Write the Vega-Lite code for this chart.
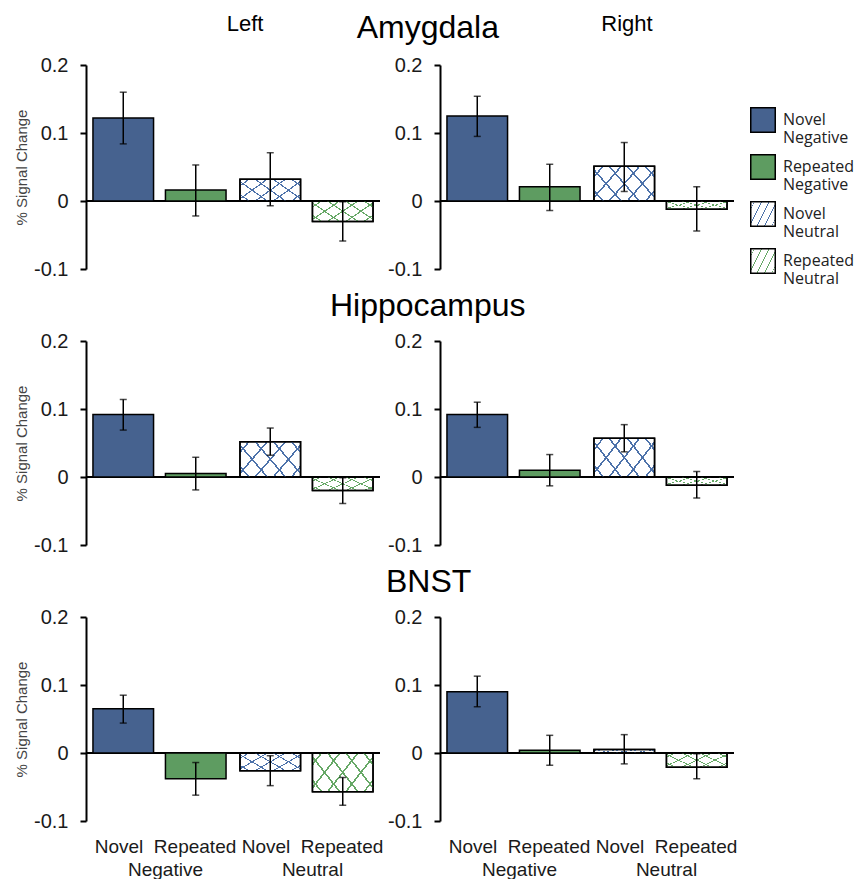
{
"$schema": "https://vega.github.io/schema/vega-lite/v6.json",
"background": "white",
"padding": {"left": 14, "top": 12, "right": 0, "bottom": 0},
"params": [
{"name":"hA_b","value":{"gradient":"linear","x1":0,"y1":0,"x2":1.2,"y2":0.6,"stops":[{"offset":0,"color":"rgba(77,114,170,0)"},{"offset":0.089,"color":"rgba(77,114,170,0)"},{"offset":0.089,"color":"#4d72aa"},{"offset":0.111,"color":"#4d72aa"},{"offset":0.111,"color":"rgba(77,114,170,0)"},{"offset":0.289,"color":"rgba(77,114,170,0)"},{"offset":0.289,"color":"#4d72aa"},{"offset":0.311,"color":"#4d72aa"},{"offset":0.311,"color":"rgba(77,114,170,0)"},{"offset":0.489,"color":"rgba(77,114,170,0)"},{"offset":0.489,"color":"#4d72aa"},{"offset":0.511,"color":"#4d72aa"},{"offset":0.511,"color":"rgba(77,114,170,0)"},{"offset":0.689,"color":"rgba(77,114,170,0)"},{"offset":0.689,"color":"#4d72aa"},{"offset":0.711,"color":"#4d72aa"},{"offset":0.711,"color":"rgba(77,114,170,0)"},{"offset":0.889,"color":"rgba(77,114,170,0)"},{"offset":0.889,"color":"#4d72aa"},{"offset":0.911,"color":"#4d72aa"},{"offset":0.911,"color":"rgba(77,114,170,0)"},{"offset":1,"color":"rgba(77,114,170,0)"}]}},
{"name":"hA_g","value":{"gradient":"linear","x1":0,"y1":0,"x2":1.2,"y2":0.6,"stops":[{"offset":0,"color":"rgba(102,168,102,0)"},{"offset":0.089,"color":"rgba(102,168,102,0)"},{"offset":0.089,"color":"#66a866"},{"offset":0.111,"color":"#66a866"},{"offset":0.111,"color":"rgba(102,168,102,0)"},{"offset":0.289,"color":"rgba(102,168,102,0)"},{"offset":0.289,"color":"#66a866"},{"offset":0.311,"color":"#66a866"},{"offset":0.311,"color":"rgba(102,168,102,0)"},{"offset":0.489,"color":"rgba(102,168,102,0)"},{"offset":0.489,"color":"#66a866"},{"offset":0.511,"color":"#66a866"},{"offset":0.511,"color":"rgba(102,168,102,0)"},{"offset":0.689,"color":"rgba(102,168,102,0)"},{"offset":0.689,"color":"#66a866"},{"offset":0.711,"color":"#66a866"},{"offset":0.711,"color":"rgba(102,168,102,0)"},{"offset":0.889,"color":"rgba(102,168,102,0)"},{"offset":0.889,"color":"#66a866"},{"offset":0.911,"color":"#66a866"},{"offset":0.911,"color":"rgba(102,168,102,0)"},{"offset":1,"color":"rgba(102,168,102,0)"}]}},
{"name":"hB_b","value":{"gradient":"linear","x1":1,"y1":0,"x2":-0.2,"y2":0.6,"stops":[{"offset":0,"color":"rgba(77,114,170,0)"},{"offset":0.089,"color":"rgba(77,114,170,0)"},{"offset":0.089,"color":"#4d72aa"},{"offset":0.111,"color":"#4d72aa"},{"offset":0.111,"color":"rgba(77,114,170,0)"},{"offset":0.289,"color":"rgba(77,114,170,0)"},{"offset":0.289,"color":"#4d72aa"},{"offset":0.311,"color":"#4d72aa"},{"offset":0.311,"color":"rgba(77,114,170,0)"},{"offset":0.489,"color":"rgba(77,114,170,0)"},{"offset":0.489,"color":"#4d72aa"},{"offset":0.511,"color":"#4d72aa"},{"offset":0.511,"color":"rgba(77,114,170,0)"},{"offset":0.689,"color":"rgba(77,114,170,0)"},{"offset":0.689,"color":"#4d72aa"},{"offset":0.711,"color":"#4d72aa"},{"offset":0.711,"color":"rgba(77,114,170,0)"},{"offset":0.889,"color":"rgba(77,114,170,0)"},{"offset":0.889,"color":"#4d72aa"},{"offset":0.911,"color":"#4d72aa"},{"offset":0.911,"color":"rgba(77,114,170,0)"},{"offset":1,"color":"rgba(77,114,170,0)"}]}},
{"name":"hB_g","value":{"gradient":"linear","x1":1,"y1":0,"x2":-0.2,"y2":0.6,"stops":[{"offset":0,"color":"rgba(102,168,102,0)"},{"offset":0.089,"color":"rgba(102,168,102,0)"},{"offset":0.089,"color":"#66a866"},{"offset":0.111,"color":"#66a866"},{"offset":0.111,"color":"rgba(102,168,102,0)"},{"offset":0.289,"color":"rgba(102,168,102,0)"},{"offset":0.289,"color":"#66a866"},{"offset":0.311,"color":"#66a866"},{"offset":0.311,"color":"rgba(102,168,102,0)"},{"offset":0.489,"color":"rgba(102,168,102,0)"},{"offset":0.489,"color":"#66a866"},{"offset":0.511,"color":"#66a866"},{"offset":0.511,"color":"rgba(102,168,102,0)"},{"offset":0.689,"color":"rgba(102,168,102,0)"},{"offset":0.689,"color":"#66a866"},{"offset":0.711,"color":"#66a866"},{"offset":0.711,"color":"rgba(102,168,102,0)"},{"offset":0.889,"color":"rgba(102,168,102,0)"},{"offset":0.889,"color":"#66a866"},{"offset":0.911,"color":"#66a866"},{"offset":0.911,"color":"rgba(102,168,102,0)"},{"offset":1,"color":"rgba(102,168,102,0)"}]}}
],
"data": {"values": [
{"r":"Amygdala","s":"Left","group":"Negative","novelty":"Novel","cond":"Novel Negative","value":0.122,"lo":0.084,"hi":0.160},
{"r":"Amygdala","s":"Left","group":"Negative","novelty":"Repeated","cond":"Repeated Negative","value":0.016,"lo":-0.022,"hi":0.053},
{"r":"Amygdala","s":"Left","group":"Neutral","novelty":"Novel","cond":"Novel Neutral","value":0.032,"lo":-0.007,"hi":0.071},
{"r":"Amygdala","s":"Left","group":"Neutral","novelty":"Repeated","cond":"Repeated Neutral","value":-0.030,"lo":-0.059,"hi":-0.001},
{"r":"Amygdala","s":"Right","group":"Negative","novelty":"Novel","cond":"Novel Negative","value":0.125,"lo":0.095,"hi":0.154},
{"r":"Amygdala","s":"Right","group":"Negative","novelty":"Repeated","cond":"Repeated Negative","value":0.021,"lo":-0.014,"hi":0.054},
{"r":"Amygdala","s":"Right","group":"Neutral","novelty":"Novel","cond":"Novel Neutral","value":0.051,"lo":0.014,"hi":0.086},
{"r":"Amygdala","s":"Right","group":"Neutral","novelty":"Repeated","cond":"Repeated Neutral","value":-0.012,"lo":-0.044,"hi":0.021},
{"r":"Hippocampus","s":"Left","group":"Negative","novelty":"Novel","cond":"Novel Negative","value":0.092,"lo":0.069,"hi":0.114},
{"r":"Hippocampus","s":"Left","group":"Negative","novelty":"Repeated","cond":"Repeated Negative","value":0.005,"lo":-0.019,"hi":0.029},
{"r":"Hippocampus","s":"Left","group":"Neutral","novelty":"Novel","cond":"Novel Neutral","value":0.052,"lo":0.032,"hi":0.072},
{"r":"Hippocampus","s":"Left","group":"Neutral","novelty":"Repeated","cond":"Repeated Neutral","value":-0.020,"lo":-0.039,"hi":-0.001},
{"r":"Hippocampus","s":"Right","group":"Negative","novelty":"Novel","cond":"Novel Negative","value":0.092,"lo":0.073,"hi":0.110},
{"r":"Hippocampus","s":"Right","group":"Negative","novelty":"Repeated","cond":"Repeated Negative","value":0.010,"lo":-0.013,"hi":0.033},
{"r":"Hippocampus","s":"Right","group":"Neutral","novelty":"Novel","cond":"Novel Neutral","value":0.057,"lo":0.037,"hi":0.077},
{"r":"Hippocampus","s":"Right","group":"Neutral","novelty":"Repeated","cond":"Repeated Neutral","value":-0.012,"lo":-0.031,"hi":0.008},
{"r":"BNST","s":"Left","group":"Negative","novelty":"Novel","cond":"Novel Negative","value":0.065,"lo":0.044,"hi":0.085},
{"r":"BNST","s":"Left","group":"Negative","novelty":"Repeated","cond":"Repeated Negative","value":-0.038,"lo":-0.062,"hi":-0.014},
{"r":"BNST","s":"Left","group":"Neutral","novelty":"Novel","cond":"Novel Neutral","value":-0.026,"lo":-0.048,"hi":-0.004},
{"r":"BNST","s":"Left","group":"Neutral","novelty":"Repeated","cond":"Repeated Neutral","value":-0.057,"lo":-0.077,"hi":-0.036},
{"r":"BNST","s":"Right","group":"Negative","novelty":"Novel","cond":"Novel Negative","value":0.090,"lo":0.068,"hi":0.113},
{"r":"BNST","s":"Right","group":"Negative","novelty":"Repeated","cond":"Repeated Negative","value":0.004,"lo":-0.018,"hi":0.026},
{"r":"BNST","s":"Right","group":"Neutral","novelty":"Novel","cond":"Novel Neutral","value":0.005,"lo":-0.016,"hi":0.027},
{"r":"BNST","s":"Right","group":"Neutral","novelty":"Repeated","cond":"Repeated Neutral","value":-0.021,"lo":-0.038,"hi":-0.001}
]},
"config": {
  "font": "Liberation Sans",
  "view": {"stroke": null},
  "axisY": {"domainColor":"black","domainWidth":2,"tickColor":"black","tickWidth":2,"tickSize":6,"labelFontSize":20,"labelPadding":12,"labelColor":"#1a1a1a","grid":false,"titleFontSize":15,"titleFontWeight":"normal","titleColor":"#444444","titlePadding":4},
  "axisX": {"labelFontSize":19,"labelColor":"#1a1a1a"},
  "title": {"fontWeight":"normal","color":"black","font":"Liberation Sans"}
},
"spacing": 11,
"vconcat": [
{
  "title": {"text":"Amygdala","fontSize":32,"frame":"bounds","anchor":"middle","offset":-32,"dx":53},
  "bounds": "flush", "spacing": 60,
  "hconcat": [
  {
    "width": 294, "height": 204,
    "title": {"text":"Left","fontSize":22,"frame":"group","anchor":"middle","offset":19,"dx":12},
    "transform": [{"filter":"datum.r == 'Amygdala' && datum.s == 'Left'"}],
    "encoding": {"y": {"field":"value","type":"quantitative","scale":{"domain":[-0.1,0.2],"nice":false},"axis":{"values":[-0.1,0,0.1,0.2],"labelExpr":"'' + datum.value","title":"% Signal Change"}}},
    "layer": [
      {"mark":{"type":"rule","color":"black","strokeWidth":2},"encoding":{"y":{"datum":0,"type":"quantitative","scale":{"domain":[-0.1,0.2],"nice":false},"axis":{"values":[-0.1,0,0.1,0.2],"labelExpr":"'' + datum.value","title":"% Signal Change"}}}},
      {"mark":{"type":"bar","stroke":"black","strokeWidth":1.5},"encoding":{
        "x":{"field":"group","type":"nominal","sort":["Negative","Neutral"],"scale":{"paddingInner":0,"paddingOuter":0},"axis":null},
        "xOffset":{"field":"novelty","type":"nominal","sort":["Novel","Repeated"],"scale":{"paddingInner":0.164,"paddingOuter":0.096}},
        "color":{"field":"cond","type":"nominal","scale":{"domain":["Novel Negative","Repeated Negative","Novel Neutral","Repeated Neutral"],"range":["#46628f","#5e9c61",{"expr":"hA_b"},{"expr":"hA_g"}]},"legend":{"title":null,"orient":"none","legendX":664,"legendY":42,"symbolType":"square","symbolSize":600,"symbolStrokeColor":"black","symbolStrokeWidth":1.5,"labelFont":"Open Sans","labelFontSize":16,"labelColor":"#222222","labelExpr":"split(datum.label, ' ')","labelOffset":7,"rowPadding":5,"labelLimit":0,"padding":0}}}},
      {"transform":[{"filter":"datum.group == 'Neutral'"}],"mark":{"type":"bar","fill":{"expr":"datum.cond == 'Novel Neutral' ? hB_b : hB_g"},"stroke":"black","strokeWidth":1.5},"encoding":{
        "x":{"field":"group","type":"nominal","sort":["Negative","Neutral"],"scale":{"paddingInner":0,"paddingOuter":0},"axis":null},
        "xOffset":{"field":"novelty","type":"nominal","sort":["Novel","Repeated"],"scale":{"paddingInner":0.164,"paddingOuter":0.096}}}},
      {"mark":{"type":"rule","color":"black","strokeWidth":1.5},"encoding":{
        "x":{"field":"group","type":"nominal","sort":["Negative","Neutral"],"scale":{"paddingInner":0,"paddingOuter":0},"axis":null},
        "xOffset":{"field":"novelty","type":"nominal","sort":["Novel","Repeated"],"scale":{"paddingInner":0.164,"paddingOuter":0.096}},
        "y":{"field":"lo","type":"quantitative","scale":{"domain":[-0.1,0.2],"nice":false},"axis":{"values":[-0.1,0,0.1,0.2],"labelExpr":"'' + datum.value","title":"% Signal Change"}},"y2":{"field":"hi"}}},
      {"mark":{"type":"tick","color":"black","thickness":1.5,"size":7},"encoding":{
        "x":{"field":"group","type":"nominal","sort":["Negative","Neutral"],"scale":{"paddingInner":0,"paddingOuter":0},"axis":null},
        "xOffset":{"field":"novelty","type":"nominal","sort":["Novel","Repeated"],"scale":{"paddingInner":0.164,"paddingOuter":0.096}},
        "y":{"field":"lo","type":"quantitative","scale":{"domain":[-0.1,0.2],"nice":false},"axis":{"values":[-0.1,0,0.1,0.2],"labelExpr":"'' + datum.value","title":"% Signal Change"}}}},
      {"mark":{"type":"tick","color":"black","thickness":1.5,"size":7},"encoding":{
        "x":{"field":"group","type":"nominal","sort":["Negative","Neutral"],"scale":{"paddingInner":0,"paddingOuter":0},"axis":null},
        "xOffset":{"field":"novelty","type":"nominal","sort":["Novel","Repeated"],"scale":{"paddingInner":0.164,"paddingOuter":0.096}},
        "y":{"field":"hi","type":"quantitative","scale":{"domain":[-0.1,0.2],"nice":false},"axis":{"values":[-0.1,0,0.1,0.2],"labelExpr":"'' + datum.value","title":"% Signal Change"}}}}
    ]
  },
  {
    "width": 294, "height": 204,
    "title": {"text":"Right","fontSize":22,"frame":"group","anchor":"middle","offset":19,"dx":40},
    "transform": [{"filter":"datum.r == 'Amygdala' && datum.s == 'Right'"}],
    "encoding": {"y": {"field":"value","type":"quantitative","scale":{"domain":[-0.1,0.2],"nice":false},"axis":{"values":[-0.1,0,0.1,0.2],"labelExpr":"'' + datum.value","title":null}}},
    "layer": [
      {"mark":{"type":"rule","color":"black","strokeWidth":2},"encoding":{"y":{"datum":0,"type":"quantitative","scale":{"domain":[-0.1,0.2],"nice":false},"axis":{"values":[-0.1,0,0.1,0.2],"labelExpr":"'' + datum.value","title":null}}}},
      {"mark":{"type":"bar","stroke":"black","strokeWidth":1.5},"encoding":{
        "x":{"field":"group","type":"nominal","sort":["Negative","Neutral"],"scale":{"paddingInner":0,"paddingOuter":0},"axis":null},
        "xOffset":{"field":"novelty","type":"nominal","sort":["Novel","Repeated"],"scale":{"paddingInner":0.164,"paddingOuter":0.096}},
        "color":{"field":"cond","type":"nominal","scale":{"domain":["Novel Negative","Repeated Negative","Novel Neutral","Repeated Neutral"],"range":["#46628f","#5e9c61",{"expr":"hA_b"},{"expr":"hA_g"}]}}}},
      {"transform":[{"filter":"datum.group == 'Neutral'"}],"mark":{"type":"bar","fill":{"expr":"datum.cond == 'Novel Neutral' ? hB_b : hB_g"},"stroke":"black","strokeWidth":1.5},"encoding":{
        "x":{"field":"group","type":"nominal","sort":["Negative","Neutral"],"scale":{"paddingInner":0,"paddingOuter":0},"axis":null},
        "xOffset":{"field":"novelty","type":"nominal","sort":["Novel","Repeated"],"scale":{"paddingInner":0.164,"paddingOuter":0.096}}}},
      {"mark":{"type":"rule","color":"black","strokeWidth":1.5},"encoding":{
        "x":{"field":"group","type":"nominal","sort":["Negative","Neutral"],"scale":{"paddingInner":0,"paddingOuter":0},"axis":null},
        "xOffset":{"field":"novelty","type":"nominal","sort":["Novel","Repeated"],"scale":{"paddingInner":0.164,"paddingOuter":0.096}},
        "y":{"field":"lo","type":"quantitative","scale":{"domain":[-0.1,0.2],"nice":false},"axis":{"values":[-0.1,0,0.1,0.2],"labelExpr":"'' + datum.value","title":null}},"y2":{"field":"hi"}}},
      {"mark":{"type":"tick","color":"black","thickness":1.5,"size":7},"encoding":{
        "x":{"field":"group","type":"nominal","sort":["Negative","Neutral"],"scale":{"paddingInner":0,"paddingOuter":0},"axis":null},
        "xOffset":{"field":"novelty","type":"nominal","sort":["Novel","Repeated"],"scale":{"paddingInner":0.164,"paddingOuter":0.096}},
        "y":{"field":"lo","type":"quantitative","scale":{"domain":[-0.1,0.2],"nice":false},"axis":{"values":[-0.1,0,0.1,0.2],"labelExpr":"'' + datum.value","title":null}}}},
      {"mark":{"type":"tick","color":"black","thickness":1.5,"size":7},"encoding":{
        "x":{"field":"group","type":"nominal","sort":["Negative","Neutral"],"scale":{"paddingInner":0,"paddingOuter":0},"axis":null},
        "xOffset":{"field":"novelty","type":"nominal","sort":["Novel","Repeated"],"scale":{"paddingInner":0.164,"paddingOuter":0.096}},
        "y":{"field":"hi","type":"quantitative","scale":{"domain":[-0.1,0.2],"nice":false},"axis":{"values":[-0.1,0,0.1,0.2],"labelExpr":"'' + datum.value","title":null}}}}
    ]
  }
  ]
},
{
  "title": {"text":"Hippocampus","fontSize":32,"frame":"bounds","anchor":"middle","offset":8,"dx":53},
  "bounds": "flush", "spacing": 60,
  "hconcat": [
  {
    "width": 294, "height": 204,
    "transform": [{"filter":"datum.r == 'Hippocampus' && datum.s == 'Left'"}],
    "encoding": {"y": {"field":"value","type":"quantitative","scale":{"domain":[-0.1,0.2],"nice":false},"axis":{"values":[-0.1,0,0.1,0.2],"labelExpr":"'' + datum.value","title":"% Signal Change"}}},
    "layer": [
      {"mark":{"type":"rule","color":"black","strokeWidth":2},"encoding":{"y":{"datum":0,"type":"quantitative","scale":{"domain":[-0.1,0.2],"nice":false},"axis":{"values":[-0.1,0,0.1,0.2],"labelExpr":"'' + datum.value","title":"% Signal Change"}}}},
      {"mark":{"type":"bar","stroke":"black","strokeWidth":1.5},"encoding":{
        "x":{"field":"group","type":"nominal","sort":["Negative","Neutral"],"scale":{"paddingInner":0,"paddingOuter":0},"axis":null},
        "xOffset":{"field":"novelty","type":"nominal","sort":["Novel","Repeated"],"scale":{"paddingInner":0.164,"paddingOuter":0.096}},
        "color":{"field":"cond","type":"nominal","scale":{"domain":["Novel Negative","Repeated Negative","Novel Neutral","Repeated Neutral"],"range":["#46628f","#5e9c61",{"expr":"hA_b"},{"expr":"hA_g"}]}}}},
      {"transform":[{"filter":"datum.group == 'Neutral'"}],"mark":{"type":"bar","fill":{"expr":"datum.cond == 'Novel Neutral' ? hB_b : hB_g"},"stroke":"black","strokeWidth":1.5},"encoding":{
        "x":{"field":"group","type":"nominal","sort":["Negative","Neutral"],"scale":{"paddingInner":0,"paddingOuter":0},"axis":null},
        "xOffset":{"field":"novelty","type":"nominal","sort":["Novel","Repeated"],"scale":{"paddingInner":0.164,"paddingOuter":0.096}}}},
      {"mark":{"type":"rule","color":"black","strokeWidth":1.5},"encoding":{
        "x":{"field":"group","type":"nominal","sort":["Negative","Neutral"],"scale":{"paddingInner":0,"paddingOuter":0},"axis":null},
        "xOffset":{"field":"novelty","type":"nominal","sort":["Novel","Repeated"],"scale":{"paddingInner":0.164,"paddingOuter":0.096}},
        "y":{"field":"lo","type":"quantitative","scale":{"domain":[-0.1,0.2],"nice":false},"axis":{"values":[-0.1,0,0.1,0.2],"labelExpr":"'' + datum.value","title":"% Signal Change"}},"y2":{"field":"hi"}}},
      {"mark":{"type":"tick","color":"black","thickness":1.5,"size":7},"encoding":{
        "x":{"field":"group","type":"nominal","sort":["Negative","Neutral"],"scale":{"paddingInner":0,"paddingOuter":0},"axis":null},
        "xOffset":{"field":"novelty","type":"nominal","sort":["Novel","Repeated"],"scale":{"paddingInner":0.164,"paddingOuter":0.096}},
        "y":{"field":"lo","type":"quantitative","scale":{"domain":[-0.1,0.2],"nice":false},"axis":{"values":[-0.1,0,0.1,0.2],"labelExpr":"'' + datum.value","title":"% Signal Change"}}}},
      {"mark":{"type":"tick","color":"black","thickness":1.5,"size":7},"encoding":{
        "x":{"field":"group","type":"nominal","sort":["Negative","Neutral"],"scale":{"paddingInner":0,"paddingOuter":0},"axis":null},
        "xOffset":{"field":"novelty","type":"nominal","sort":["Novel","Repeated"],"scale":{"paddingInner":0.164,"paddingOuter":0.096}},
        "y":{"field":"hi","type":"quantitative","scale":{"domain":[-0.1,0.2],"nice":false},"axis":{"values":[-0.1,0,0.1,0.2],"labelExpr":"'' + datum.value","title":"% Signal Change"}}}}
    ]
  },
  {
    "width": 294, "height": 204,
    "transform": [{"filter":"datum.r == 'Hippocampus' && datum.s == 'Right'"}],
    "encoding": {"y": {"field":"value","type":"quantitative","scale":{"domain":[-0.1,0.2],"nice":false},"axis":{"values":[-0.1,0,0.1,0.2],"labelExpr":"'' + datum.value","title":null}}},
    "layer": [
      {"mark":{"type":"rule","color":"black","strokeWidth":2},"encoding":{"y":{"datum":0,"type":"quantitative","scale":{"domain":[-0.1,0.2],"nice":false},"axis":{"values":[-0.1,0,0.1,0.2],"labelExpr":"'' + datum.value","title":null}}}},
      {"mark":{"type":"bar","stroke":"black","strokeWidth":1.5},"encoding":{
        "x":{"field":"group","type":"nominal","sort":["Negative","Neutral"],"scale":{"paddingInner":0,"paddingOuter":0},"axis":null},
        "xOffset":{"field":"novelty","type":"nominal","sort":["Novel","Repeated"],"scale":{"paddingInner":0.164,"paddingOuter":0.096}},
        "color":{"field":"cond","type":"nominal","scale":{"domain":["Novel Negative","Repeated Negative","Novel Neutral","Repeated Neutral"],"range":["#46628f","#5e9c61",{"expr":"hA_b"},{"expr":"hA_g"}]}}}},
      {"transform":[{"filter":"datum.group == 'Neutral'"}],"mark":{"type":"bar","fill":{"expr":"datum.cond == 'Novel Neutral' ? hB_b : hB_g"},"stroke":"black","strokeWidth":1.5},"encoding":{
        "x":{"field":"group","type":"nominal","sort":["Negative","Neutral"],"scale":{"paddingInner":0,"paddingOuter":0},"axis":null},
        "xOffset":{"field":"novelty","type":"nominal","sort":["Novel","Repeated"],"scale":{"paddingInner":0.164,"paddingOuter":0.096}}}},
      {"mark":{"type":"rule","color":"black","strokeWidth":1.5},"encoding":{
        "x":{"field":"group","type":"nominal","sort":["Negative","Neutral"],"scale":{"paddingInner":0,"paddingOuter":0},"axis":null},
        "xOffset":{"field":"novelty","type":"nominal","sort":["Novel","Repeated"],"scale":{"paddingInner":0.164,"paddingOuter":0.096}},
        "y":{"field":"lo","type":"quantitative","scale":{"domain":[-0.1,0.2],"nice":false},"axis":{"values":[-0.1,0,0.1,0.2],"labelExpr":"'' + datum.value","title":null}},"y2":{"field":"hi"}}},
      {"mark":{"type":"tick","color":"black","thickness":1.5,"size":7},"encoding":{
        "x":{"field":"group","type":"nominal","sort":["Negative","Neutral"],"scale":{"paddingInner":0,"paddingOuter":0},"axis":null},
        "xOffset":{"field":"novelty","type":"nominal","sort":["Novel","Repeated"],"scale":{"paddingInner":0.164,"paddingOuter":0.096}},
        "y":{"field":"lo","type":"quantitative","scale":{"domain":[-0.1,0.2],"nice":false},"axis":{"values":[-0.1,0,0.1,0.2],"labelExpr":"'' + datum.value","title":null}}}},
      {"mark":{"type":"tick","color":"black","thickness":1.5,"size":7},"encoding":{
        "x":{"field":"group","type":"nominal","sort":["Negative","Neutral"],"scale":{"paddingInner":0,"paddingOuter":0},"axis":null},
        "xOffset":{"field":"novelty","type":"nominal","sort":["Novel","Repeated"],"scale":{"paddingInner":0.164,"paddingOuter":0.096}},
        "y":{"field":"hi","type":"quantitative","scale":{"domain":[-0.1,0.2],"nice":false},"axis":{"values":[-0.1,0,0.1,0.2],"labelExpr":"'' + datum.value","title":null}}}}
    ]
  }
  ]
},
{
  "title": {"text":"BNST","fontSize":32,"frame":"bounds","anchor":"middle","offset":8,"dx":53},
  "bounds": "flush", "spacing": 60,
  "hconcat": [
  {
    "width": 294, "height": 204,
    "transform": [{"filter":"datum.r == 'BNST' && datum.s == 'Left'"}],
    "encoding": {"y": {"field":"value","type":"quantitative","scale":{"domain":[-0.1,0.2],"nice":false},"axis":{"values":[-0.1,0,0.1,0.2],"labelExpr":"'' + datum.value","title":"% Signal Change"}}},
    "layer": [
      {"mark":{"type":"rule","color":"black","strokeWidth":2},"encoding":{"y":{"datum":0,"type":"quantitative","scale":{"domain":[-0.1,0.2],"nice":false},"axis":{"values":[-0.1,0,0.1,0.2],"labelExpr":"'' + datum.value","title":"% Signal Change"}}}},
      {"mark":{"type":"bar","stroke":"black","strokeWidth":1.5},"encoding":{
        "x":{"field":"group","type":"nominal","sort":["Negative","Neutral"],"scale":{"paddingInner":0,"paddingOuter":0},"axis":{"labelExpr":"datum.label == 'Negative' ? ['Novel\u00a0\u00a0Repeated', 'Negative'] : ['Novel\u00a0\u00a0Repeated', 'Neutral']","title":null,"domain":false,"ticks":false,"labelAngle":0,"labelPadding":16,"labelLineHeight":23,"labelOffset":6}},
        "xOffset":{"field":"novelty","type":"nominal","sort":["Novel","Repeated"],"scale":{"paddingInner":0.164,"paddingOuter":0.096}},
        "color":{"field":"cond","type":"nominal","scale":{"domain":["Novel Negative","Repeated Negative","Novel Neutral","Repeated Neutral"],"range":["#46628f","#5e9c61",{"expr":"hA_b"},{"expr":"hA_g"}]}}}},
      {"transform":[{"filter":"datum.group == 'Neutral'"}],"mark":{"type":"bar","fill":{"expr":"datum.cond == 'Novel Neutral' ? hB_b : hB_g"},"stroke":"black","strokeWidth":1.5},"encoding":{
        "x":{"field":"group","type":"nominal","sort":["Negative","Neutral"],"scale":{"paddingInner":0,"paddingOuter":0},"axis":{"labelExpr":"datum.label == 'Negative' ? ['Novel\u00a0\u00a0Repeated', 'Negative'] : ['Novel\u00a0\u00a0Repeated', 'Neutral']","title":null,"domain":false,"ticks":false,"labelAngle":0,"labelPadding":16,"labelLineHeight":23,"labelOffset":6}},
        "xOffset":{"field":"novelty","type":"nominal","sort":["Novel","Repeated"],"scale":{"paddingInner":0.164,"paddingOuter":0.096}}}},
      {"mark":{"type":"rule","color":"black","strokeWidth":1.5},"encoding":{
        "x":{"field":"group","type":"nominal","sort":["Negative","Neutral"],"scale":{"paddingInner":0,"paddingOuter":0},"axis":{"labelExpr":"datum.label == 'Negative' ? ['Novel\u00a0\u00a0Repeated', 'Negative'] : ['Novel\u00a0\u00a0Repeated', 'Neutral']","title":null,"domain":false,"ticks":false,"labelAngle":0,"labelPadding":16,"labelLineHeight":23,"labelOffset":6}},
        "xOffset":{"field":"novelty","type":"nominal","sort":["Novel","Repeated"],"scale":{"paddingInner":0.164,"paddingOuter":0.096}},
        "y":{"field":"lo","type":"quantitative","scale":{"domain":[-0.1,0.2],"nice":false},"axis":{"values":[-0.1,0,0.1,0.2],"labelExpr":"'' + datum.value","title":"% Signal Change"}},"y2":{"field":"hi"}}},
      {"mark":{"type":"tick","color":"black","thickness":1.5,"size":7},"encoding":{
        "x":{"field":"group","type":"nominal","sort":["Negative","Neutral"],"scale":{"paddingInner":0,"paddingOuter":0},"axis":{"labelExpr":"datum.label == 'Negative' ? ['Novel\u00a0\u00a0Repeated', 'Negative'] : ['Novel\u00a0\u00a0Repeated', 'Neutral']","title":null,"domain":false,"ticks":false,"labelAngle":0,"labelPadding":16,"labelLineHeight":23,"labelOffset":6}},
        "xOffset":{"field":"novelty","type":"nominal","sort":["Novel","Repeated"],"scale":{"paddingInner":0.164,"paddingOuter":0.096}},
        "y":{"field":"lo","type":"quantitative","scale":{"domain":[-0.1,0.2],"nice":false},"axis":{"values":[-0.1,0,0.1,0.2],"labelExpr":"'' + datum.value","title":"% Signal Change"}}}},
      {"mark":{"type":"tick","color":"black","thickness":1.5,"size":7},"encoding":{
        "x":{"field":"group","type":"nominal","sort":["Negative","Neutral"],"scale":{"paddingInner":0,"paddingOuter":0},"axis":{"labelExpr":"datum.label == 'Negative' ? ['Novel\u00a0\u00a0Repeated', 'Negative'] : ['Novel\u00a0\u00a0Repeated', 'Neutral']","title":null,"domain":false,"ticks":false,"labelAngle":0,"labelPadding":16,"labelLineHeight":23,"labelOffset":6}},
        "xOffset":{"field":"novelty","type":"nominal","sort":["Novel","Repeated"],"scale":{"paddingInner":0.164,"paddingOuter":0.096}},
        "y":{"field":"hi","type":"quantitative","scale":{"domain":[-0.1,0.2],"nice":false},"axis":{"values":[-0.1,0,0.1,0.2],"labelExpr":"'' + datum.value","title":"% Signal Change"}}}}
    ]
  },
  {
    "width": 294, "height": 204,
    "transform": [{"filter":"datum.r == 'BNST' && datum.s == 'Right'"}],
    "encoding": {"y": {"field":"value","type":"quantitative","scale":{"domain":[-0.1,0.2],"nice":false},"axis":{"values":[-0.1,0,0.1,0.2],"labelExpr":"'' + datum.value","title":null}}},
    "layer": [
      {"mark":{"type":"rule","color":"black","strokeWidth":2},"encoding":{"y":{"datum":0,"type":"quantitative","scale":{"domain":[-0.1,0.2],"nice":false},"axis":{"values":[-0.1,0,0.1,0.2],"labelExpr":"'' + datum.value","title":null}}}},
      {"mark":{"type":"bar","stroke":"black","strokeWidth":1.5},"encoding":{
        "x":{"field":"group","type":"nominal","sort":["Negative","Neutral"],"scale":{"paddingInner":0,"paddingOuter":0},"axis":{"labelExpr":"datum.label == 'Negative' ? ['Novel\u00a0\u00a0Repeated', 'Negative'] : ['Novel\u00a0\u00a0Repeated', 'Neutral']","title":null,"domain":false,"ticks":false,"labelAngle":0,"labelPadding":16,"labelLineHeight":23,"labelOffset":6}},
        "xOffset":{"field":"novelty","type":"nominal","sort":["Novel","Repeated"],"scale":{"paddingInner":0.164,"paddingOuter":0.096}},
        "color":{"field":"cond","type":"nominal","scale":{"domain":["Novel Negative","Repeated Negative","Novel Neutral","Repeated Neutral"],"range":["#46628f","#5e9c61",{"expr":"hA_b"},{"expr":"hA_g"}]}}}},
      {"transform":[{"filter":"datum.group == 'Neutral'"}],"mark":{"type":"bar","fill":{"expr":"datum.cond == 'Novel Neutral' ? hB_b : hB_g"},"stroke":"black","strokeWidth":1.5},"encoding":{
        "x":{"field":"group","type":"nominal","sort":["Negative","Neutral"],"scale":{"paddingInner":0,"paddingOuter":0},"axis":{"labelExpr":"datum.label == 'Negative' ? ['Novel\u00a0\u00a0Repeated', 'Negative'] : ['Novel\u00a0\u00a0Repeated', 'Neutral']","title":null,"domain":false,"ticks":false,"labelAngle":0,"labelPadding":16,"labelLineHeight":23,"labelOffset":6}},
        "xOffset":{"field":"novelty","type":"nominal","sort":["Novel","Repeated"],"scale":{"paddingInner":0.164,"paddingOuter":0.096}}}},
      {"mark":{"type":"rule","color":"black","strokeWidth":1.5},"encoding":{
        "x":{"field":"group","type":"nominal","sort":["Negative","Neutral"],"scale":{"paddingInner":0,"paddingOuter":0},"axis":{"labelExpr":"datum.label == 'Negative' ? ['Novel\u00a0\u00a0Repeated', 'Negative'] : ['Novel\u00a0\u00a0Repeated', 'Neutral']","title":null,"domain":false,"ticks":false,"labelAngle":0,"labelPadding":16,"labelLineHeight":23,"labelOffset":6}},
        "xOffset":{"field":"novelty","type":"nominal","sort":["Novel","Repeated"],"scale":{"paddingInner":0.164,"paddingOuter":0.096}},
        "y":{"field":"lo","type":"quantitative","scale":{"domain":[-0.1,0.2],"nice":false},"axis":{"values":[-0.1,0,0.1,0.2],"labelExpr":"'' + datum.value","title":null}},"y2":{"field":"hi"}}},
      {"mark":{"type":"tick","color":"black","thickness":1.5,"size":7},"encoding":{
        "x":{"field":"group","type":"nominal","sort":["Negative","Neutral"],"scale":{"paddingInner":0,"paddingOuter":0},"axis":{"labelExpr":"datum.label == 'Negative' ? ['Novel\u00a0\u00a0Repeated', 'Negative'] : ['Novel\u00a0\u00a0Repeated', 'Neutral']","title":null,"domain":false,"ticks":false,"labelAngle":0,"labelPadding":16,"labelLineHeight":23,"labelOffset":6}},
        "xOffset":{"field":"novelty","type":"nominal","sort":["Novel","Repeated"],"scale":{"paddingInner":0.164,"paddingOuter":0.096}},
        "y":{"field":"lo","type":"quantitative","scale":{"domain":[-0.1,0.2],"nice":false},"axis":{"values":[-0.1,0,0.1,0.2],"labelExpr":"'' + datum.value","title":null}}}},
      {"mark":{"type":"tick","color":"black","thickness":1.5,"size":7},"encoding":{
        "x":{"field":"group","type":"nominal","sort":["Negative","Neutral"],"scale":{"paddingInner":0,"paddingOuter":0},"axis":{"labelExpr":"datum.label == 'Negative' ? ['Novel\u00a0\u00a0Repeated', 'Negative'] : ['Novel\u00a0\u00a0Repeated', 'Neutral']","title":null,"domain":false,"ticks":false,"labelAngle":0,"labelPadding":16,"labelLineHeight":23,"labelOffset":6}},
        "xOffset":{"field":"novelty","type":"nominal","sort":["Novel","Repeated"],"scale":{"paddingInner":0.164,"paddingOuter":0.096}},
        "y":{"field":"hi","type":"quantitative","scale":{"domain":[-0.1,0.2],"nice":false},"axis":{"values":[-0.1,0,0.1,0.2],"labelExpr":"'' + datum.value","title":null}}}}
    ]
  }
  ]
}
]
}
